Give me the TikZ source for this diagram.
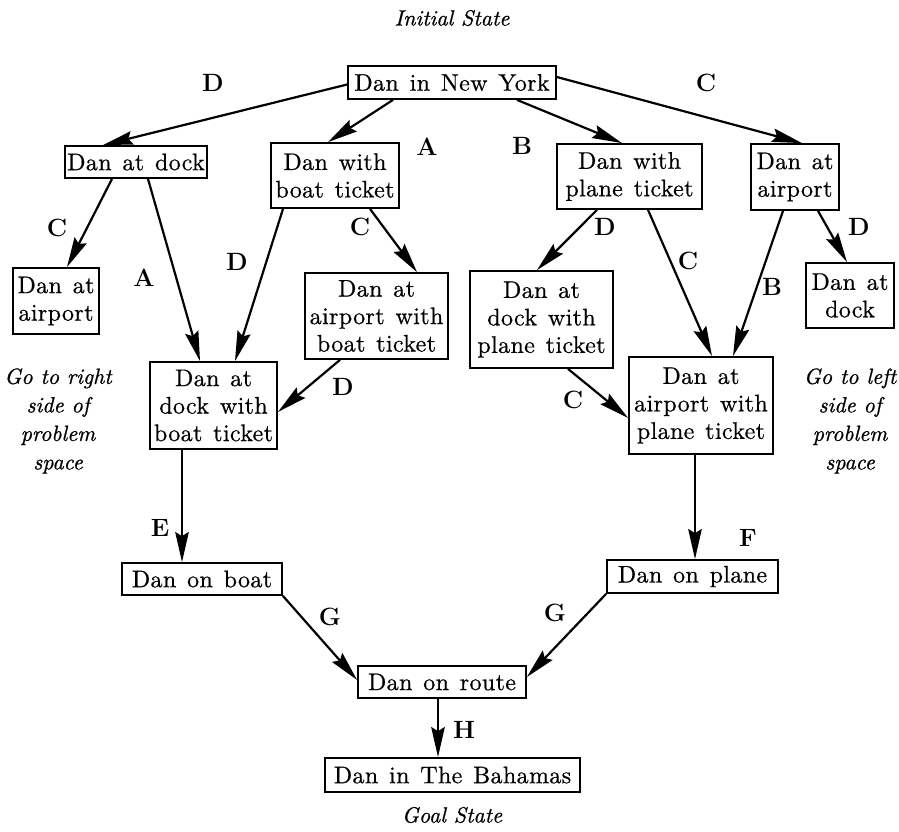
\documentclass[tikz,border=0pt]{standalone}
\usepackage{fontspec}
\newfontfamily\boxfont{lmroman10-regular.otf}[LetterSpace=1.5,WordSpace=1.3,FakeBold=0.6]
\newfontfamily\notefont{lmroman10-italic.otf}[FakeBold=0.8]
\usetikzlibrary{arrows.meta,calc}
\begin{document}
\begin{tikzpicture}[x=1pt,y=-1pt,
  box/.style={draw,line width=1.8pt,inner sep=0pt,align=center,font=\boxfont\fontsize{24}{27.5}\selectfont},
  lbl/.style={font=\bfseries\fontsize{25}{28}\selectfont},
  note/.style={font=\notefont\fontsize{22}{28.5}\selectfont,align=center},
  arr/.style={line width=2.2pt,-{Stealth[length=30pt,width=13.5pt,inset=4pt]}}]
\useasboundingbox (0,0) rectangle (899,832);
% nodes
\node[box,minimum width=208pt,minimum height=33pt] (ny) at (452,82.5) {Dan in New York};
\node[box,minimum width=142pt,minimum height=32pt] (dock1) at (136,162) {Dan at dock};
\node[box,minimum width=128pt,minimum height=65pt] (boatt) at (335,175.5) {Dan with\\boat ticket};
\node[box,minimum width=86pt,minimum height=66pt] (airp1) at (56,301) {Dan at\\airport};
\node[box,minimum width=143pt,minimum height=86pt] (airpboat) at (376.5,316) {Dan at\\airport with\\boat ticket};
\node[box,minimum width=127pt,minimum height=87pt] (dockboat) at (213.5,405.5) {Dan at\\dock with\\boat ticket};
\node[box,minimum width=145pt,minimum height=65pt] (planet) at (629.5,176.5) {Dan with\\plane ticket};
\node[box,minimum width=88pt,minimum height=66pt] (airp2) at (795,177) {Dan at\\airport};
\node[box,minimum width=143pt,minimum height=97pt] (dockplane) at (541.5,319.5) {Dan at\\dock with\\plane ticket};
\node[box,minimum width=88pt,minimum height=65pt] (dock2) at (850,295.5) {Dan at\\dock};
\node[box,minimum width=144pt,minimum height=97pt] (airpplane) at (701,405.5) {Dan at\\airport with\\plane ticket};
\node[box,minimum width=160pt,minimum height=32pt] (boat) at (202,579) {Dan on boat};
\node[box,minimum width=171pt,minimum height=33pt] (plane) at (692.5,576.5) {Dan on plane};
\node[box,minimum width=168pt,minimum height=32pt] (route) at (442,682) {Dan on route};
\node[box,minimum width=255pt,minimum height=34pt] (bahamas) at (452.5,775) {Dan in The Bahamas};
% notes
\node[note] (init) at (452,18) {Initial State};
\node[note] (goal) at (452,815) {Goal State};
\node[note] (gright) at (58,421) {Go to right\\side of\\problem\\space};
\node[note] (gleft) at (850,421) {Go to left\\side of\\problem\\space};
% connectors
\draw[arr] ([yshift=-2pt]ny.west) -- ([xshift=-33pt]dock1.north);
\draw[arr] ([xshift=-59pt]ny.south) -- ([xshift=-7pt]boatt.north);
\draw[arr] ([xshift=65pt]ny.south) -- ([xshift=-7.5pt]planet.north);
\draw[arr] ([yshift=5.5pt]ny.east) -- ([xshift=7pt]airp2.north);
\draw[arr] ([xshift=-24pt]dock1.south) -- ([xshift=11pt]airp1.north);
\draw[arr] ([xshift=12pt]dock1.south) -- ([xshift=-13.5pt]dockboat.north);
\draw[arr] ([xshift=-52pt]boatt.south) -- ([xshift=21.5pt]dockboat.north);
\draw[arr] ([xshift=35pt]boatt.south) -- ([xshift=40.5pt]airpboat.north);
\draw[arr] ([xshift=-36.5pt]airpboat.south) -- ([yshift=-6.5pt]dockboat.east);
\draw[arr] ([xshift=-32.5pt]planet.south) -- ([xshift=-4.5pt]dockplane.north);
\draw[arr] ([xshift=18.5pt]planet.south) -- ([xshift=11pt]airpplane.north);
\draw[arr] ([xshift=-12pt]airp2.south) -- ([xshift=32pt]airpplane.north);
\draw[arr] ([xshift=23pt]airp2.south) -- ([xshift=-3pt]dock2.north);
\draw[arr] ([xshift=26.5pt]dockplane.south) -- ([yshift=-12.5pt]airpplane.west);
\draw[arr] ([xshift=-31.5pt]dockboat.south) -- ([xshift=-20pt]boat.north);
\draw[arr] ([xshift=-6pt]airpplane.south) -- ([xshift=2.5pt]plane.north);
\draw[arr] (boat.south east) -- ([yshift=2pt]route.west);
\draw[arr] (plane.south west) -- ([yshift=5pt]route.east);
\draw[arr] ([xshift=-4pt]route.south) -- ([xshift=-14.5pt]bahamas.north);
% edge labels
\node[lbl] (lD1) at (213,83) {D};
\node[lbl] (lC1) at (706,83) {C};
\node[lbl] (lA1) at (427,147) {A};
\node[lbl] (lB1) at (522,146) {B};
\node[lbl] (lC2) at (57,228) {C};
\node[lbl] (lA2) at (144,278) {A};
\node[lbl] (lD2) at (237,262) {D};
\node[lbl] (lC3) at (360,227) {C};
\node[lbl] (lD3) at (343,387) {D};
\node[lbl] (lD4) at (605,227) {D};
\node[lbl] (lC4) at (688,261) {C};
\node[lbl] (lB2) at (772,287) {B};
\node[lbl] (lD5) at (859,227) {D};
\node[lbl] (lC5) at (573,400) {C};
\node[lbl] (lE) at (160,528) {E};
\node[lbl] (lF) at (748,538) {F};
\node[lbl] (lG1) at (330,617) {G};
\node[lbl] (lG2) at (555,613) {G};
\node[lbl] (lH) at (464,730) {H};
\end{tikzpicture}
\end{document}
